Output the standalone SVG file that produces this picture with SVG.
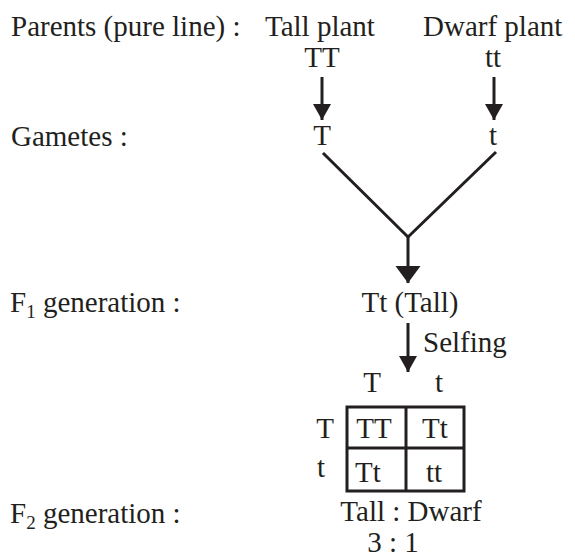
<svg xmlns="http://www.w3.org/2000/svg" width="575" height="557" viewBox="0 0 575 557">
<defs>
<style>
text{font-family:"Liberation Serif","Times New Roman",serif;font-size:29px;fill:#231f20}
.m{text-anchor:middle}
.sub{font-size:19px}
.ln{stroke:#231f20;stroke-width:3;fill:none}
</style>
<marker id="ah" markerUnits="userSpaceOnUse" markerWidth="20" markerHeight="20" viewBox="0 0 20 20" refX="16" refY="10" orient="auto">
<path d="M0,1 L16,10 L0,19 Z" fill="#231f20"/>
</marker>
<marker id="ahL" markerUnits="userSpaceOnUse" markerWidth="26" markerHeight="26" viewBox="0 0 26 26" refX="17" refY="13" orient="auto">
<path d="M0,0.5 L17,13 L0,25.5 Z" fill="#231f20"/>
</marker>
</defs>
<rect width="575" height="557" fill="#fff"/>
<g id="labels">
<text x="11" y="36">Parents (pure line) :</text>
<text x="11" y="146">Gametes :</text>
<text x="10" y="312">F<tspan class="sub" dy="6">1</tspan><tspan dy="-6"> generation :</tspan></text>
<text x="10" y="523">F<tspan class="sub" dy="6">2</tspan><tspan dy="-6"> generation :</tspan></text>
</g>
<g id="parent-tall">
<text x="265" y="36">Tall plant</text>
<text class="m" x="322" y="67">TT</text>
</g>
<g id="parent-dwarf">
<text x="423" y="36">Dwarf plant</text>
<text class="m" x="493" y="67">tt</text>
</g>
<g id="gamete-T"><text class="m" x="322" y="145">T</text></g>
<g id="gamete-t"><text class="m" x="493" y="145">t</text></g>
<g id="f1"><text class="m" x="410" y="312">Tt (Tall)</text></g>
<g id="punnett">
<text class="m" x="372" y="392">T</text>
<text class="m" x="439" y="392">t</text>
<text class="m" x="325" y="438">T</text>
<text class="m" x="321" y="477">t</text>
<rect class="ln" x="347" y="407" width="117" height="84"/>
<line class="ln" x1="406" y1="407" x2="406" y2="491"/>
<line class="ln" x1="347" y1="448" x2="464" y2="448"/>
<text class="m" x="374" y="438">TT</text>
<text class="m" x="435" y="438">Tt</text>
<text class="m" x="368" y="482">Tt</text>
<text class="m" x="434" y="482">tt</text>
</g>
<g id="f2">
<text class="m" x="411" y="521">Tall : Dwarf</text>
<text class="m" x="393" y="552">3 : 1</text>
</g>
<g id="connectors">
<line class="ln" x1="322" y1="77" x2="322" y2="120" marker-end="url(#ah)"/>
<line class="ln" x1="494" y1="77" x2="494" y2="120" marker-end="url(#ah)"/>
<polyline class="ln" points="323,153 408,237 496,152"/>
<line class="ln" x1="408" y1="236" x2="408" y2="283" marker-end="url(#ahL)"/>
<line class="ln" x1="408" y1="323" x2="408" y2="372" marker-end="url(#ah)"/>
<text x="423" y="352">Selfing</text>
</g>
</svg>
